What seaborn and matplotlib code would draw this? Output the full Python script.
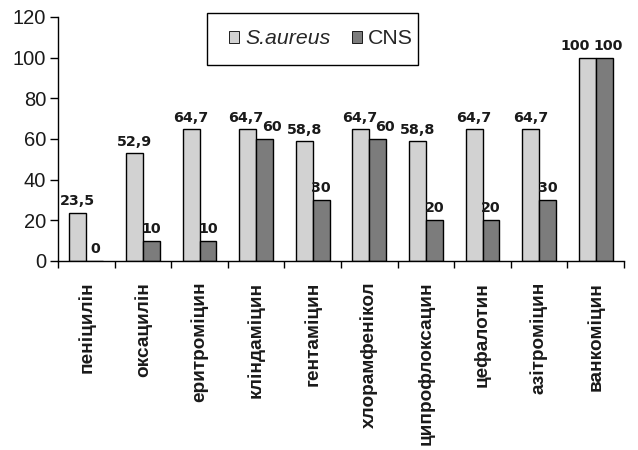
import matplotlib
matplotlib.use("Agg")
import matplotlib.pyplot as plt
from matplotlib.patches import Rectangle
import seaborn as sns
import pandas as pd
import numpy as np

drugs = ["пеніцилін", "оксацилін", "еритроміцин", "кліндаміцин", "гентаміцин",
         "хлорамфенікол", "ципрофлоксацин", "цефалотин", "азітроміцин", "ванкоміцин"]
s_aureus = [23.5, 52.9, 64.7, 64.7, 58.8, 64.7, 58.8, 64.7, 64.7, 100]
cns = [0, 10, 10, 60, 30, 60, 20, 20, 30, 100]
series = ["S.aureus", "CNS"]
yticks = [0, 20, 40, 60, 80, 100, 120]

df = pd.DataFrame({
    "drug": drugs * 2,
    "value": s_aureus + cns,
    "group": [series[0]] * len(drugs) + [series[1]] * len(drugs),
})

sns.set_theme(style="ticks")
plt.rcParams["font.family"] = ["Liberation Sans", "DejaVu Sans"]

W, H = 638, 450
fig = plt.figure(figsize=(W / 100, H / 100), dpi=100)
ax = fig.add_axes([58 / W, 1 - 261 / H, 566 / W, 244 / H])

sns.barplot(data=df, x="drug", y="value", hue="group", order=drugs,
            hue_order=series, palette=["#d2d2d2", "#7c7c7c"],
            width=0.6, edgecolor="black", linewidth=1.0, saturation=1,
            ax=ax)

def fmt(v):
    return f"{v:g}".replace(".", ",")

label_sets = []
for cont, vals in zip(ax.containers, [s_aureus, cns]):
    texts = ax.bar_label(cont, labels=[fmt(v) for v in vals], padding=3.5,
                         fontsize=10.3, fontweight="bold", family="DejaVu Sans",
                         color="#1a1a1a")
    label_sets.append(texts)

# nudge paired labels apart where the two bars are about equally tall
for i, (a, b) in enumerate(zip(s_aureus, cns)):
    if abs(a - b) < 3:
        label_sets[0][i].xyann = (-9, 3.5)
        label_sets[1][i].xyann = (2.5, 3.5)
    elif abs(a - b) < 8:
        label_sets[0][i].xyann = (-1, 3.5)
        label_sets[1][i].xyann = (5, 3.5)

ax.set_ylim(0, 120)
ax.set_yticks(yticks)
ax.set_yticklabels([str(t) for t in yticks], fontsize=14.5, color="#1a1a1a")
ax.set_xlim(-0.5, len(drugs) - 0.5)
ax.set_xlabel("")
ax.set_ylabel("")

# category labels, with the ticks drawn between groups
ax.set_xticks(range(len(drugs)))
ax.set_xticklabels(drugs, rotation=90, fontsize=13.7, fontweight="bold", color="#1a1a1a")
ax.tick_params(axis="x", length=0, pad=15)
ax.set_xticks(np.arange(-0.5, len(drugs) + 0.5, 1), minor=True)
ax.tick_params(axis="x", which="minor", length=5, width=1, color="black", direction="out")
ax.tick_params(axis="y", length=5.5, width=1, color="black", direction="out", pad=3)

for side in ["top", "right"]:
    ax.spines[side].set_visible(False)
for side in ["left", "bottom"]:
    ax.spines[side].set_color("black")
    ax.spines[side].set_linewidth(1.0)

leg = ax.legend(loc="center left", bbox_to_anchor=(229 / W, 1 - 39 / H),
                bbox_transform=fig.transFigure, borderaxespad=0, borderpad=0,
                ncol=2, frameon=False, fontsize=15.3,
                handlelength=0.47, handleheight=0.47,
                handletextpad=0.3, columnspacing=1.0)
leg.get_texts()[0].set_fontstyle("italic")
for h in leg.legend_handles:
    h.set_linewidth(0.6)

# legend frame
fig.patches.append(Rectangle((207 / W, 1 - 65 / H), 211 / W, 52 / H,
                             transform=fig.transFigure, fill=False,
                             edgecolor="black", linewidth=1.0))

fig.savefig("out.png", dpi=100, facecolor="white")
